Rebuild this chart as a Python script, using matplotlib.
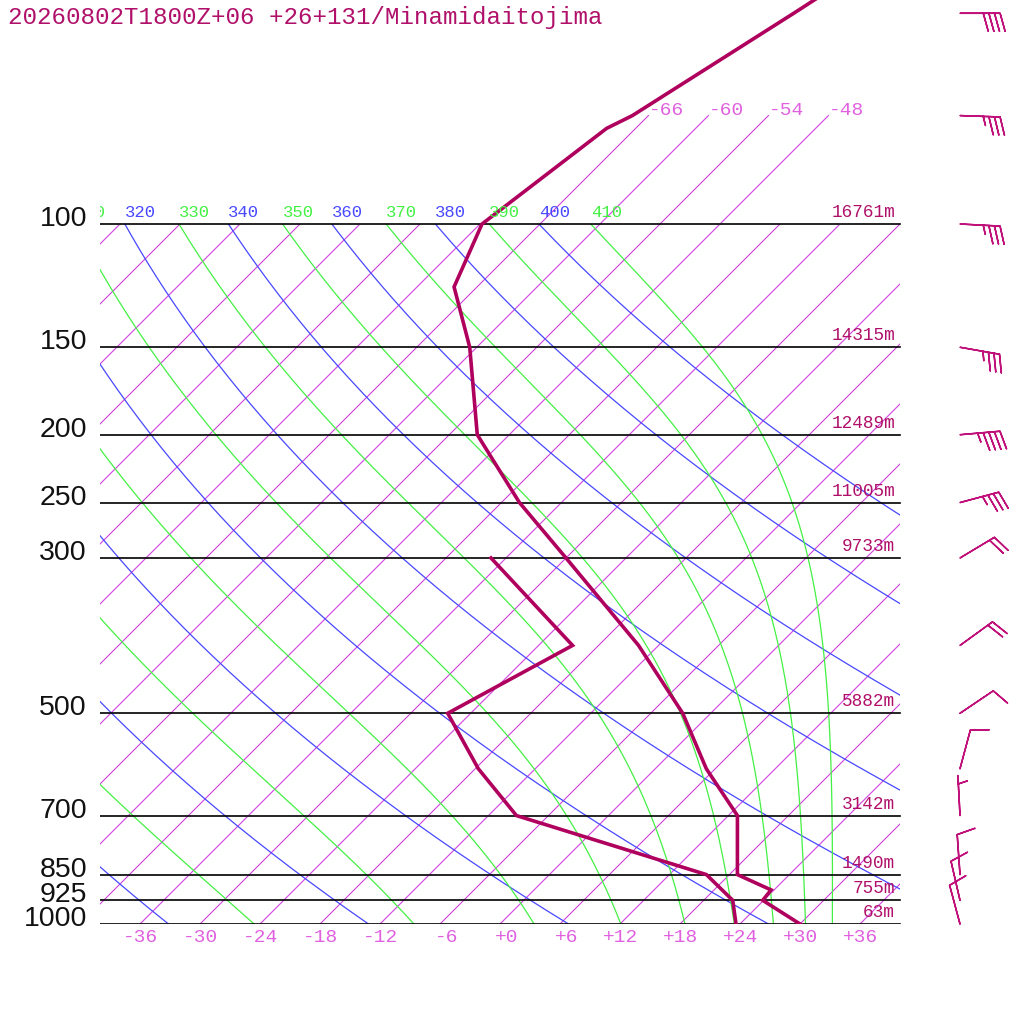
import numpy as np
import matplotlib
matplotlib.use("Agg")
import matplotlib.pyplot as plt
from matplotlib.patches import Rectangle
from matplotlib.transforms import offset_copy

# ---- データ ----
title = "20260802T1800Z+06 +26+131/Minamidaitojima"

# 気温
t_pres = [1000, 925, 894, 850, 700, 600, 500, 400, 300, 250, 200, 150, 123, 100, 73, 70, 50, 40]
t_temp = [30.0, 23.9, 23.7, 18.8, 12.9, 5.1, -2.8, -14.0, -30.0, -40.2, -51.2, -60.7, -68.3, -71.8, -68.9, -67.6, -61.7, -58.0]

# 露点
td_pres = [1000, 925, 850, 700, 600, 500, 400, 300]
td_temp = [23.6, 20.9, 15.7, -9.2, -17.7, -26.3, -20.6, -37.5]

# 風 (風向, 風速)
w_pres = [1000, 925, 850, 700, 600, 500, 400, 300, 250, 200, 150, 100, 70, 50]
w_dir = [345, 347, 356, 357, 15, 56, 54, 59, 75, 85, 100, 93, 92, 90]
w_spd = [10, 10, 10, 5, 10, 10, 20, 20, 35, 45, 35, 35, 35, 40]

# 標準気圧面と高度
lev_pres = [1000, 925, 850, 700, 500, 300, 250, 200, 150, 100]
lev_hgt = ["63m", "755m", "1490m", "3142m", "5882m", "9733m", "11005m", "12489m", "14315m", "16761m"]

isotherms = np.arange(-120, 61, 6)
upper_isotherms = [-66, -60, -54, -48]
tick_temps = [-36, -30, -24, -18, -12, -6, 0, 6, 12, 18, 24, 30, 36]
dry_thetas = np.arange(240, 401, 20)
moist_thetae = np.arange(250, 411, 20)

# ---- 色 ----
c_prof = "#b0005e"
c_text = "#b0106a"
c_iso = "#d040e0"
c_isolab = "#e060e0"
c_blue = "#4848ff"
c_green = "#44f044"

SKEW = 70.0


def skx(t, p):
    # スキュー座標
    return np.asarray(t) + SKEW * np.log10(1000.0 / np.asarray(p))


def theta_e(tk, p):
    tc = tk - 273.15
    es = 6.112 * np.exp(17.67 * tc / (tc + 243.5))
    r = 622.0 * es / np.maximum(p - es, 1e-3)
    r = np.minimum(r, 1000.0)
    return tk * (1000.0 / p) ** (0.2854 * (1 - 0.28e-3 * r)) * np.exp((3.376 / tk - 0.00254) * r * (1 + 0.81e-3 * r))


def moist_temp(te, p):
    lo = np.full_like(p, 150.0)
    hi = np.full_like(p, 330.0)
    with np.errstate(over="ignore", invalid="ignore"):
        for _ in range(60):
            mid = 0.5 * (lo + hi)
            f = theta_e(mid, p)
            big = ~(f < te)
            hi = np.where(big, mid, hi)
            lo = np.where(big, lo, mid)
    return 0.5 * (lo + hi) - 273.15


fig = plt.figure(figsize=(10.24, 10.24), dpi=100)
ax = fig.add_axes([100 / 1024, 100 / 1024, 924 / 1024, 924 / 1024])
ax.set_yscale("log")
ax.set_xlim(-40, 52.4)
ax.set_ylim(1000, 1000 / 10 ** (924 / 700))
ax.axis("off")

clip = Rectangle((-40, 100), 80, 900, transform=ax.transData, fill=False, visible=False)
ax.add_patch(clip)

pp = np.geomspace(1000, 100, 300)

# 等温線
for t in isotherms:
    ln, = ax.plot(skx(t, pp), pp, color=c_iso, lw=0.8)
    ln.set_clip_path(clip)
pu = np.array([100, 70])
iso_tr = offset_copy(ax.transData, fig=fig, x=0, y=5, units="dots")
for t in upper_isotherms:
    ax.plot(skx(t, pu), pu, color=c_iso, lw=0.8)
    ax.text(skx(t, 70), 70, "%d" % t, color=c_isolab, fontsize=14, family="Liberation Mono",
            ha="left", va="center", transform=iso_tr)

# 乾燥断熱線
lab_tr = offset_copy(ax.transData, fig=fig, x=0, y=4, units="dots")
for th in dry_thetas:
    tt = th * (pp / 1000.0) ** 0.286 - 273.15
    ln, = ax.plot(skx(tt, pp), pp, color=c_blue, lw=0.9)
    ln.set_clip_path(clip)
    if th >= 320:
        ax.text(skx(tt[-1], 100), 100, "%d" % th, color=c_blue, fontsize=12.4,
                family="Liberation Mono", ha="left", va="bottom", transform=lab_tr, clip_on=True)

# 湿潤断熱線
for te in moist_thetae:
    tt = moist_temp(te, pp)
    ln, = ax.plot(skx(tt, pp), pp, color=c_green, lw=0.9)
    ln.set_clip_path(clip)
    if te >= 310:
        ax.text(skx(tt[-1], 100), 100, "%d" % te, color=c_green, fontsize=12.4,
                family="Liberation Mono", ha="left", va="bottom", transform=lab_tr, clip_on=True)

# 気圧面
hgt_tr = offset_copy(ax.transData, fig=fig, x=-5, y=3, units="dots")
plab_tr = offset_copy(ax.transData, fig=fig, x=0, y=-2, units="dots")
for p, h in zip(lev_pres, lev_hgt):
    ax.plot([-40, 40], [p, p], color="black", lw=1.2)
    ax.text(40, p, h, color=c_text, fontsize=12.8, family="Liberation Mono",
            ha="right", va="bottom", transform=hgt_tr)
    ax.text(-41.3, p, "%d" % p, color="#111111", fontsize=20.5, family="Liberation Sans",
            ha="right", va="baseline", transform=plab_tr)

# 横軸ラベル
tick_tr = offset_copy(ax.transData, fig=fig, x=18, y=-13, units="dots")
for t in tick_temps:
    ax.text(t, 1000, "%+d" % t, color=c_isolab, fontsize=14, family="Liberation Mono",
            ha="right", va="center", transform=tick_tr)

# 気温・露点
ax.plot(skx(t_temp, t_pres), t_pres, color=c_prof, lw=2.6, solid_joinstyle="miter")
ax.plot(skx(td_temp, td_pres), td_pres, color=c_prof, lw=2.6, solid_joinstyle="miter")

# 矢羽
wd = np.deg2rad(w_dir)
u = -np.array(w_spd) * np.sin(wd)
v = -np.array(w_spd) * np.cos(wd)
ax.barbs(np.full(len(w_pres), 46.0), w_pres, u, v, length=7.6, color="#c0107a",
         linewidth=1.1, sizes=dict(spacing=0.14, height=0.45), clip_on=False)

fig.text(8 / 1024, 1 - 6 / 1024, title, color=c_text, fontsize=17.4, family="Liberation Mono",
         ha="left", va="top")

fig.savefig("out.png", dpi=100, facecolor="white")
